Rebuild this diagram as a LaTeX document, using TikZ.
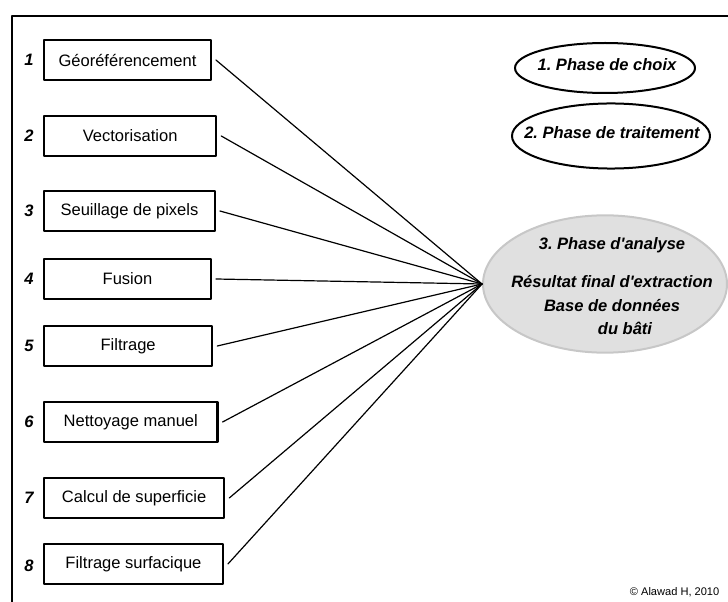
\documentclass[tikz,border=0pt]{standalone}
\usepackage{fontspec}
\setmainfont{Liberation Sans}
\usepackage{tikz}
\usetikzlibrary{shapes.geometric}
\frenchspacing

\tikzset{
	etape/.style={draw, line width=1.7pt, anchor=west, minimum height=30pt,
		inner sep=0pt, font=\fontsize{12.4}{14}\selectfont},
	numero/.style={font=\fontsize{12.4}{14}\selectfont\bfseries\itshape},
	phase/.style={draw, ellipse, line width=1.5pt, inner sep=0pt},
	titre/.style={font=\fontsize{12.4}{14}\selectfont\bfseries\itshape},
	lien/.style={line width=0.9pt}
}

\begin{document}
\begin{tikzpicture}[x=0.75pt, y=-0.75pt, line cap=round, line join=round]
	\useasboundingbox (0,0) rectangle (728,602);
	% cadre
	\draw[line width=1.5pt] (12,602) -- (12,16) -- (728,16);
	% etapes
	\node[etape, minimum width=125pt] (b1) at (43,60) {Géoréférencement};
	\node[etape, minimum width=129pt] (b2) at (43,136) {Vectorisation};
	\node[etape, minimum width=128pt] (b3) at (43,211) {Seuillage de pixels};
	\node[etape, minimum width=125pt] (b4) at (43,279) {Fusion};
	\node[etape, minimum width=126pt] (b5) at (43,346) {Filtrage};
	\node[etape, minimum width=130pt] (b6) at (43,422) {Nettoyage manuel};
	\node[etape, minimum width=135pt] (b7) at (43,498) {Calcul de superficie};
	\node[etape, minimum width=134pt] (b8) at (43,564) {Filtrage surfacique};
	% numeros
	\node[numero] (n1) at (29,60) {1};
	\node[numero] (n2) at (29,136) {2};
	\node[numero] (n3) at (29,211) {3};
	\node[numero] (n4) at (29,279) {4};
	\node[numero] (n5) at (29,346) {5};
	\node[numero] (n6) at (29,422) {6};
	\node[numero] (n7) at (29,498) {7};
	\node[numero] (n8) at (29,566) {8};
	% phases
	\draw[line width=1.5pt] (605,68) ellipse [x radius=67.5pt, y radius=18.75pt];
	\node[titre] (t1) at (607,65) {1. Phase de choix};
	\draw[line width=1.5pt] (611,136) ellipse [x radius=74.25pt, y radius=24.4pt];
	\node[titre] (t2) at (612,133) {2. Phase de traitement};
	\node[phase, draw=black!22, fill=black!12, minimum width=183pt,
		minimum height=103pt] (p3) at (605,284) {};
	\node[titre] (t3) at (612,245) {3. Phase d\textquotesingle analyse};
	\node[titre] (t4) at (612,282) {Résultat final d\textquotesingle extraction};
	\node[titre] (t5) at (612,306) {Base de données};
	\node[titre] (t6) at (625,328) {du bâti};
	% liens
	\draw[lien] ([xshift=3pt]b1.east) -- (p3.west);
	\draw[lien] ([xshift=3pt]b2.east) -- (p3.west);
	\draw[lien] ([xshift=3pt]b3.east) -- (p3.west);
	\draw[lien] ([xshift=3pt]b4.east) -- (p3.west);
	\draw[lien] ([xshift=3pt]b5.east) -- (p3.west);
	\draw[lien] ([xshift=3pt]b6.east) -- (p3.west);
	\draw[lien] ([xshift=3pt]b7.east) -- (p3.west);
	\draw[lien] ([xshift=3pt]b8.east) -- (p3.west);
	% copyright
	\node[font=\fontsize{8.3}{10}\selectfont, anchor=east] (copy) at (724,592) {© Alawad H, 2010};
\end{tikzpicture}
\end{document}
